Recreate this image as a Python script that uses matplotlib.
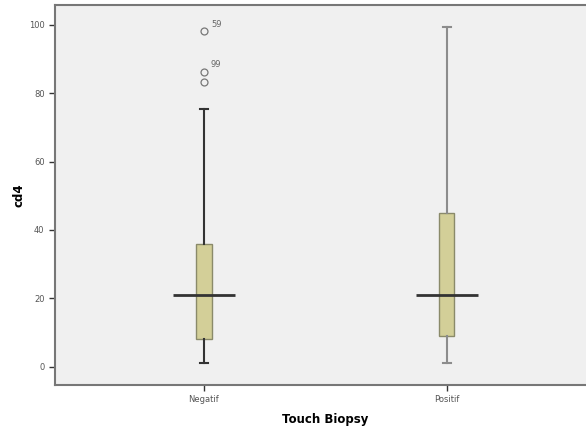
import matplotlib
matplotlib.use("Agg")
import matplotlib.pyplot as plt

# values (cd4 by touch biopsy result)
groups = ["Negatif", "Positif"]
whislo = [1, 1]
q1 = [8.2, 9.1]
med = [21, 21]
q3 = [36, 45]
whishi = [75.4, 99.4]
outliers = [[98.2, 86.3, 83.3], []]
outlier_ids = [["59", "99", ""], []]

box_color = "#d3cf98"
edge_colors = ["#333333", "#8c8c8c"]

stats = []
for i, g in enumerate(groups):
    stats.append(dict(label=g, whislo=whislo[i], q1=q1[i], med=med[i],
                      q3=q3[i], whishi=whishi[i], fliers=outliers[i]))

fig = plt.figure(figsize=(5.86, 4.30), dpi=100)
ax = fig.add_axes([0.0939, 0.1047, 0.923, 0.884])
ax.set_facecolor("#f0f0f0")

pos = [1, 2]
for i, s in enumerate(stats):
    ec = edge_colors[i]
    ax.bxp([s], positions=[pos[i]], widths=0.062, patch_artist=True,
           showfliers=True,
           boxprops=dict(facecolor=box_color, edgecolor="#8a8a6a", linewidth=1),
           whiskerprops=dict(color=ec, linewidth=1.5),
           capprops=dict(color=ec, linewidth=1.5),
           medianprops=dict(color="none"),
           flierprops=dict(marker="o", markersize=5, markerfacecolor="none",
                           markeredgecolor="#777777", markeredgewidth=0.9),
           manage_ticks=False)
    # SPSS style wide median bar
    ax.hlines(med[i], pos[i] - 0.128, pos[i] + 0.128, color="#333333", linewidth=2, zorder=5)

for i, ids in enumerate(outlier_ids):
    for v, t in zip(outliers[i], ids):
        if t:
            ax.annotate(t, (pos[i], v), xytext=(5, 3), textcoords="offset points",
                        fontsize=6, color="#666666")

ax.set_xlim(0.387, 2.613)
ax.set_ylim(-5.3, 105.8)
ax.set_xticks(pos)
ax.set_xticklabels(groups)
ax.set_yticks([0, 20, 40, 60, 80, 100])
ax.tick_params(labelsize=6, colors="#333333", labelcolor="#555555", length=4, width=1)

for sp in ax.spines.values():
    sp.set_color("#777777")
    sp.set_linewidth(1.5)

ax.set_xlabel("Touch Biopsy", fontsize=8.5, fontweight="bold")
ax.set_ylabel("cd4", fontsize=8.5, fontweight="bold")
ax.yaxis.set_label_coords(-0.055, 0.5)
ax.xaxis.set_label_coords(0.5, -0.075)

fig.savefig("out.png", dpi=100)
